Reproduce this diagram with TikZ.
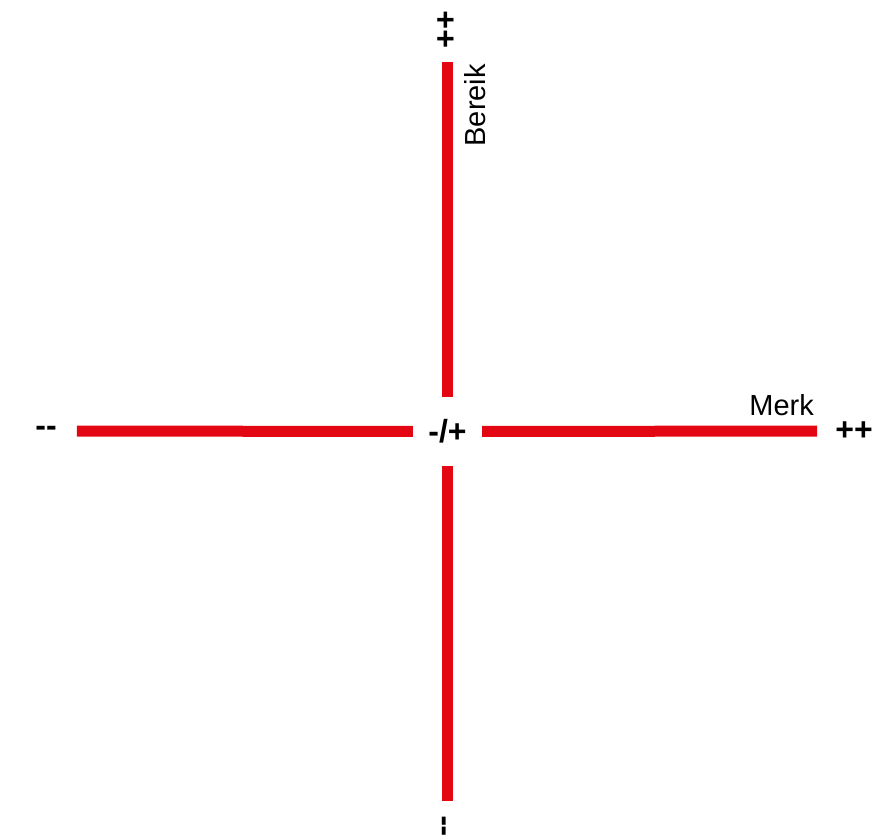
\documentclass[tikz,border=0pt]{standalone}
\usepackage{fontspec}
\setmainfont{Liberation Sans}
\usepackage{xcolor}
\usetikzlibrary{positioning}
\definecolor{axisRed}{HTML}{E30613}
\definecolor{fg}{HTML}{000000}

\begin{document}
\begin{tikzpicture}[x=1pt, y=-1pt,
    bar/.style={draw=axisRed, line width=11pt},
    sign/.style={text=fg, font=\fontsize{32}{34}\selectfont\bfseries, inner sep=0pt},
    axislabel/.style={text=fg, font=\fontsize{29}{32}\selectfont, inner sep=0pt}]
  \useasboundingbox (0,0) rectangle (890,837);
  % signs at the ends and in the middle
  \node[sign, minimum width=69pt, minimum height=69pt] (mid) at (447.5,431.5) {-/+};
  \node[sign, rotate=90] (top) at (447.5,30) {++};
  \node[sign, rotate=90] (bottom) at (447.5,826) {-{}-};
  \node[sign] (left) at (46,431) {-{}-};
  \node[sign] (right) at (854,431) {++};
  % the two axes
  \draw[bar, shorten <=13pt] (top) -- (mid);
  \draw[bar, shorten >=14pt] (mid) -- (bottom);
  \draw[bar, shorten <=20pt] (left) -- (mid);
  \draw[bar, shorten >=18pt] (mid) -- (right);
  % axis names
  \node[axislabel, rotate=90, anchor=north east] (bereik) at (464,64) {Bereik};
  \node[axislabel, anchor=base east] (merk) at (814,415) {Merk};
\end{tikzpicture}
\end{document}
